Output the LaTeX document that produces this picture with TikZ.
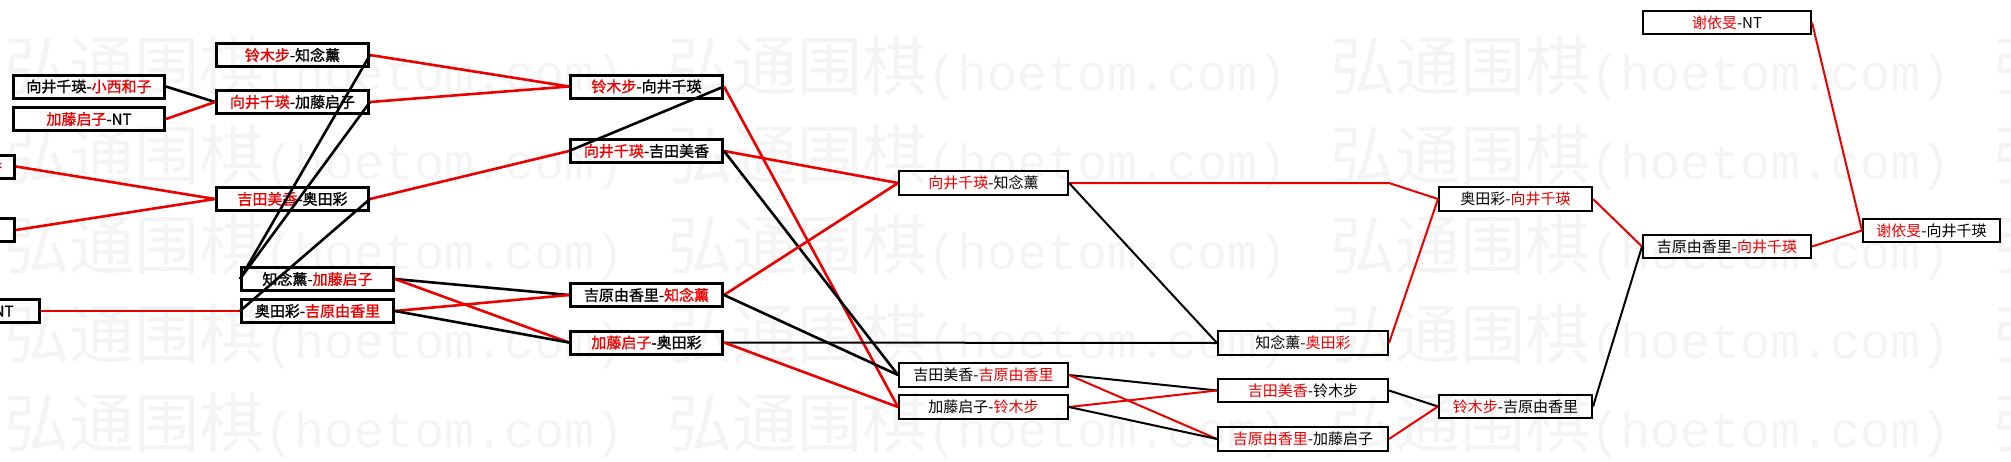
\documentclass[tikz,border=0pt]{standalone}
\usepackage{fontspec}
\newfontfamily\cjk{Noto Sans CJK SC}
\newfontfamily\cjkb[FakeBold=1.2]{Noto Sans CJK SC}
\newfontfamily\wmlat{Liberation Mono}
\definecolor{wred}{RGB}{235,0,0}
\definecolor{wmgray}{RGB}{244,244,244}
\newcommand{\rn}[1]{\textcolor{wred}{#1}}
\tikzset{
  lbox/.style={draw=black, line width=3pt, inner sep=0pt, minimum width=#1, minimum height=23pt, font=\cjkb\fontsize{15}{15}\selectfont},
  rbox/.style={draw=black, line width=2.4pt, inner sep=0pt, minimum width=#1, minimum height=23.6pt, font=\cjk\fontsize{15}{15}\selectfont},
  sbox/.style={rbox=#1, minimum height=22.6pt},
  rl/.style={draw=wred, line width=2.6pt},
  bl/.style={draw=black, line width=2.6pt},
  rr/.style={draw=wred, line width=2pt},
  br/.style={draw=black, line width=2pt},
  wm/.style={inner sep=0pt, text=wmgray, anchor=base west},
}
\begin{document}
\begin{tikzpicture}[x=1pt,y=-1pt]
\useasboundingbox (0,0) rectangle (2011,461);
\clip (0,0) rectangle (2011,461);
% watermark
\foreach \yy in {90.5,179.8,269.1,358.4,447.7}{
  \foreach \xx in {4,667,1330,1993}{
    \node[wm] at (\xx,\yy) {{\cjk\fontsize{65}{65}\selectfont 弘通围棋}{\wmlat\fontsize{50}{50}\selectfont(hoetom.com)}};
  }
}
% column A (partly outside)
\node[lbox=151, text width=126pt, align=right] (A1) at (-61,166.5) {\rn{吉田美香}};
\node[lbox=151] (A2) at (-61,230) {};
\node[lbox=152] (A3) at (-36.5,311) {\rn{吉原由香里}-NT};
% column B
\node[lbox=151] (B1) at (89,86.5) {向井千瑛-\rn{小西和子}};
\node[lbox=151] (B2) at (89,119) {\rn{加藤启子}-NT};
% column C
\node[lbox=152] (C1) at (292.5,55) {\rn{铃木步}-知念薰};
\node[lbox=152] (C2) at (292.5,102) {\rn{向井千瑛}-加藤启子};
\node[lbox=152] (C3) at (292.5,199) {\rn{吉田美香}-奥田彩};
\node[lbox=152] (C4) at (317.5,279) {知念薰-\rn{加藤启子}};
\node[lbox=152] (C5) at (317.5,311) {奥田彩-\rn{吉原由香里}};
% column D
\node[lbox=152] (D1) at (646.5,86.5) {\rn{铃木步}-向井千瑛};
\node[lbox=152] (D2) at (646.5,151) {\rn{向井千瑛}-吉田美香};
\node[lbox=152] (D3) at (646.5,295) {吉原由香里-\rn{知念薰}};
\node[lbox=152] (D4) at (646.5,342.5) {\rn{加藤启子}-奥田彩};
% column E
\node[rbox=168.6] (E1) at (983.5,183) {\rn{向井千瑛}-知念薰};
\node[rbox=168.6] (E2) at (983.5,375) {吉田美香-\rn{吉原由香里}};
\node[rbox=168.6] (E3) at (983.5,407) {加藤启子-\rn{铃木步}};
% column F
\node[rbox=169.6] (F1) at (1303,343) {知念薰-\rn{奥田彩}};
\node[sbox=169.6] (F2) at (1303,390.5) {\rn{吉田美香}-铃木步};
\node[rbox=169.6] (F3) at (1303,439) {\rn{吉原由香里}-加藤启子};
% column G
\node[rbox=152.6] (G1) at (1515.5,199) {奥田彩-\rn{向井千瑛}};
\node[sbox=152.6] (G2) at (1515.5,406.5) {\rn{铃木步}-吉原由香里};
% column H
\node[sbox=167.6] (H0) at (1727,22.5) {\rn{谢依旻}-NT};
\node[sbox=167.6] (H1) at (1727,246.5) {吉原由香里-\rn{向井千瑛}};
% column I
\node[sbox=136.6] (I1) at (1931.5,230.5) {\rn{谢依旻}-向井千瑛};
% connectors
\draw[rl] (A1.east) -- (C3.west);
\draw[rl] (A2.east) -- (C3.west);
\draw[rl] (A3.east) -- (C5.west);
\draw[bl] (B1.east) -- (C2.west);
\draw[rl] (B2.east) -- (C2.west);
\draw[rl] (C1.east) -- (D1.west);
\draw[rl] (C2.east) -- (D1.west);
\draw[bl] (C1.east) -- (C4.west);
\draw[bl] (C2.east) -- (C4.west);
\draw[rl] (C3.east) -- (D2.west);
\draw[bl] (C3.east) -- (C5.west);
\draw[bl] (C4.east) -- (D3.west);
\draw[rl] (C4.east) -- (D4.west);
\draw[rl] (C5.east) -- (D3.west);
\draw[bl] (C5.east) -- (D4.west);
\draw[bl] (D1.east) -- (D2.west);
\draw[rl] (D1.east) -- (E3.west);
\draw[rl] (D2.east) -- (E1.west);
\draw[bl] (D2.east) -- (E2.west);
\draw[rl] (D3.east) -- (E1.west);
\draw[bl] (D3.east) -- (E2.west);
\draw[br] (D4.east) -- (F1.west);
\draw[rl] (D4.east) -- (E3.west);
\coordinate (W1) at (F1.east |- E1.east);
\draw[rr] (E1.east) -- (W1) -- (G1.west);
\draw[br] (E1.east) -- (F1.west);
\draw[br] (E2.east) -- (F2.west);
\draw[rr] (E2.east) -- (F3.west);
\draw[rr] (E3.east) -- (F2.west);
\draw[br] (E3.east) -- (F3.west);
\draw[rr] (F1.east) -- (G1.west);
\draw[br] (F2.east) -- (G2.west);
\draw[rr] (F3.east) -- (G2.west);
\draw[rr] (G1.east) -- (H1.west);
\draw[br] (G2.east) -- (H1.west);
\draw[rr] (H0.east) -- (I1.west);
\draw[rr] (H1.east) -- (I1.west);
\end{tikzpicture}
\end{document}
